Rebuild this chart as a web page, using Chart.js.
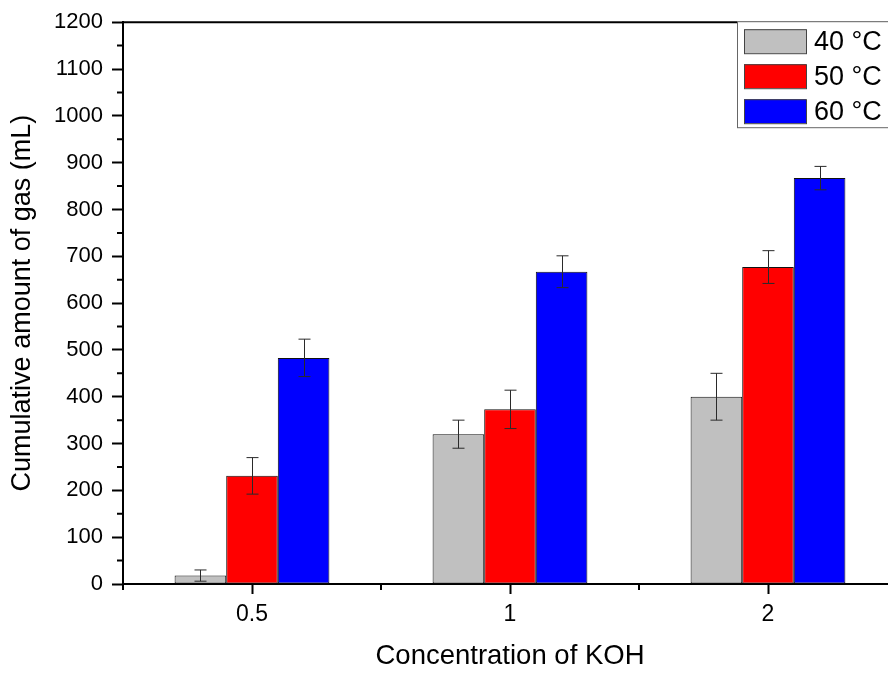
<!DOCTYPE html>
<html>
<head>
<meta charset="utf-8">
<script src="https://cdn.jsdelivr.net/npm/chart.js@4/dist/chart.umd.min.js"></script>
<style>
html, body { margin: 0; padding: 0; overflow: hidden; background: #fff; }
#wrap { position: absolute; left: 0; top: 0; width: 900px; height: 675px; }
</style>
</head>
<body>
<div id="wrap"><canvas id="c" width="900" height="675"></canvas></div>
<script>
// ---- data ----
const categories = ['0.5', '1', '2'];
const seriesNames = ['40 \u00B0C', '50 \u00B0C', '60 \u00B0C'];
const values40 = [18, 320, 400];
const values50 = [231, 373, 677];
const values60 = [483, 667, 867];
const errors40 = [12, 30, 50];
const errors50 = [39, 41, 35];
const errors60 = [40, 34, 25];
const yMin = 0, yMax = 1200, yStep = 100, yMinorStep = 50;
const xTitle = 'Concentration of KOH';
const yTitle = 'Cumulative amount of gas (mL)';

const seriesColors = ['#c0c0c0', '#ff0000', '#0000ff'];
const FONT = '"Liberation Sans", Arimo, Arial, sans-serif';

const allValues = [values40, values50, values60];
const allErrors = [errors40, errors50, errors60];

const datasets = allValues.map((v, i) => ({
  label: seriesNames[i],
  data: v,
  errors: allErrors[i],
  backgroundColor: seriesColors[i],
  borderColor: '#111',
  borderWidth: 1,
  borderSkipped: false,
  categoryPercentage: 0.6,
  barPercentage: 1.0
}));

const errorBarPlugin = {
  id: 'errorBars',
  afterDatasetsDraw(chart) {
    const ctx = chart.ctx;
    const yScale = chart.scales.y;
    ctx.save();
    ctx.strokeStyle = '#2a2a2a';
    ctx.lineWidth = 1;
    chart.data.datasets.forEach((ds, di) => {
      const meta = chart.getDatasetMeta(di);
      meta.data.forEach((bar, j) => {
        const v = ds.data[j], e = ds.errors[j];
        const x = Math.round(bar.x) + 0.5;
        const yt = yScale.getPixelForValue(v + e);
        const yb = yScale.getPixelForValue(v - e);
        const cap = 6;
        ctx.beginPath();
        ctx.moveTo(x, yt); ctx.lineTo(x, yb);
        ctx.moveTo(x - cap, yt); ctx.lineTo(x + cap, yt);
        ctx.moveTo(x - cap, yb); ctx.lineTo(x + cap, yb);
        ctx.stroke();
      });
    });
    ctx.restore();
  }
};

const framePlugin = {
  id: 'frame',
  afterDraw(chart) {
    const ctx = chart.ctx;
    const a = chart.chartArea;
    const xs = chart.scales.x, ys = chart.scales.y;
    ctx.save();
    // top border
    ctx.strokeStyle = '#000';
    ctx.lineWidth = 2;
    ctx.beginPath();
    ctx.moveTo(a.left - 1, a.top);
    ctx.lineTo(a.right, a.top);
    ctx.stroke();
    // minor y ticks
    ctx.lineWidth = 2;
    ctx.beginPath();
    for (let v = yMin + yMinorStep; v < yMax; v += yStep) {
      const y = ys.getPixelForValue(v);
      ctx.moveTo(a.left - 6, y);
      ctx.lineTo(a.left, y);
    }
    // minor x ticks at category boundaries
    const n = categories.length;
    const bounds = [xs.left];
    for (let i = 0; i < n - 1; i++) {
      bounds.push((xs.getPixelForTick(i) + xs.getPixelForTick(i + 1)) / 2);
    }
    bounds.push(xs.right);
    bounds.forEach(x => {
      ctx.moveTo(x, a.bottom);
      ctx.lineTo(x, a.bottom + 6);
    });
    ctx.stroke();

    // legend box
    const boxLeft = a.right - 160;
    const boxTop = a.top - 1;
    const rowH = 35;
    const boxH = 106;
    ctx.lineWidth = 1;
    ctx.strokeStyle = '#666';
    ctx.fillStyle = '#fff';
    ctx.fillRect(boxLeft, boxTop, 170, boxH);
    ctx.strokeRect(boxLeft + 0.5, boxTop + 0.5, 170, boxH);
    ctx.font = '27px ' + FONT;
    ctx.textBaseline = 'middle';
    ctx.textAlign = 'left';
    chart.data.datasets.forEach((ds, i) => {
      const sx = boxLeft + 7, sy = boxTop + 8 + i * rowH;
      ctx.fillStyle = ds.backgroundColor;
      ctx.fillRect(sx, sy, 62, 24);
      ctx.strokeStyle = '#444';
      ctx.strokeRect(sx + 0.5, sy + 0.5, 62, 24);
      ctx.fillStyle = '#000';
      ctx.fillText(ds.label, sx + 70, sy + 13);
    });
    ctx.restore();
  }
};

new Chart(document.getElementById('c'), {
  type: 'bar',
  data: { labels: categories, datasets: datasets },
  options: {
    responsive: false,
    animation: false,
    devicePixelRatio: 1,
    layout: { padding: { left: 0, top: 19, right: 3, bottom: 0 } },
    plugins: { legend: { display: false }, tooltip: { enabled: false } },
    scales: {
      x: {
        type: 'category',
        offset: true,
        z: 1,
        grid: { display: true, offset: false, drawOnChartArea: false, tickLength: 10, tickWidth: 2, tickColor: '#000' },
        border: { display: true, color: '#000', width: 2 },
        ticks: { color: '#000', font: { family: FONT, size: 23 }, padding: 7, maxRotation: 0 },
        title: { display: true, text: xTitle, color: '#000', font: { family: FONT, size: 27.5 }, padding: { top: 0, bottom: 2 } },
        afterFit(s) { s.height = 91; }
      },
      y: {
        min: yMin, max: yMax,
        z: 1,
        grid: { display: true, drawOnChartArea: false, tickLength: 11, tickWidth: 2, tickColor: '#000' },
        border: { display: true, color: '#000', width: 2 },
        ticks: { stepSize: yStep, color: '#000', font: { family: FONT, size: 22 }, padding: 9, callback: (v) => String(v) },
        title: { display: true, text: yTitle, color: '#000', font: { family: FONT, size: 27 }, padding: { top: 6, bottom: 0 } },
        afterFit(s) { s.width = 123; }
      }
    }
  },
  plugins: [errorBarPlugin, framePlugin]
});
</script>
</body>
</html>
